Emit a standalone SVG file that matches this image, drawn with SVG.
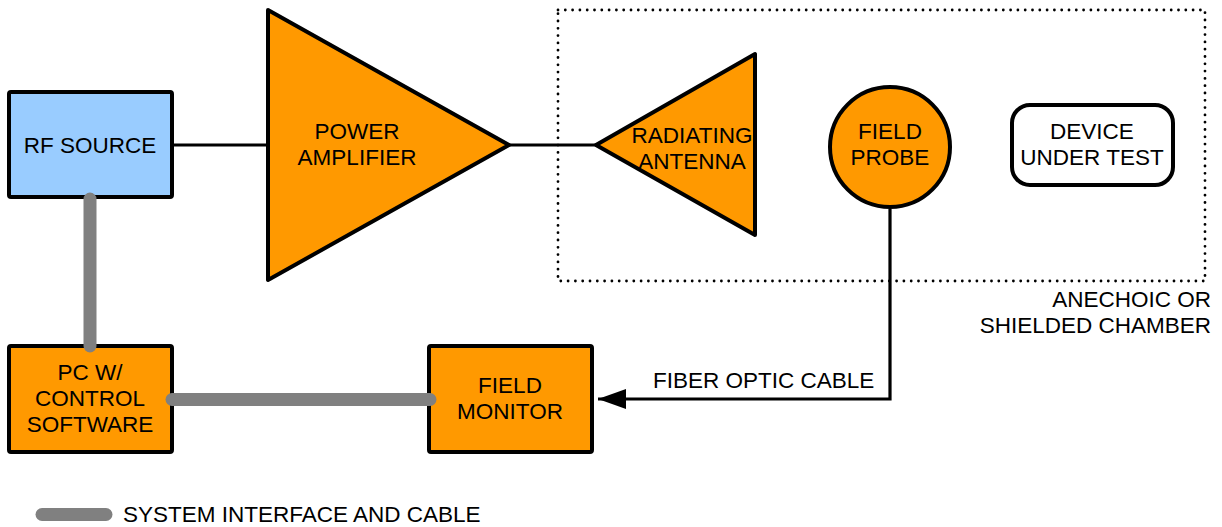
<svg xmlns="http://www.w3.org/2000/svg" width="1222" height="527" viewBox="0 0 1222 527">
  <style>
    .lbl { font-family: "Liberation Sans", Arial, sans-serif; font-size: 22.5px; fill: #000; }
    .mid { text-anchor: middle; }
    .box { stroke: #000; stroke-width: 4; stroke-linejoin: round; }
    .orange { fill: #FF9900; }
    .blue { fill: #99CCFF; }
    .wire { fill: none; stroke: #000; stroke-width: 3.2; }
    .cable { fill: none; stroke: #808080; stroke-width: 13; stroke-linecap: round; }
  </style>
  <defs>
    <marker id="arrow" markerUnits="userSpaceOnUse" markerWidth="30" markerHeight="22" refX="28" refY="11" orient="auto">
      <path d="M0,1 L28,11 L0,21 Z" fill="#000"/>
    </marker>
  </defs>

  <rect width="1222" height="527" fill="#fff"/>

  <!-- shielded chamber outline -->
  <g id="chamber">
    <rect x="558" y="10" width="647" height="271" fill="none" stroke="#000" stroke-width="2.8" stroke-linecap="round" stroke-dasharray="0 7.3"/>
    <text class="lbl" x="1211" y="307" text-anchor="end">ANECHOIC OR</text>
    <text class="lbl" x="1211" y="333" text-anchor="end">SHIELDED CHAMBER</text>
  </g>

  <g id="rf-source">
    <rect class="box blue" x="9" y="92" width="163" height="105" rx="2"/>
    <text class="lbl mid" x="90" y="153">RF SOURCE</text>
  </g>

  <g id="power-amplifier">
    <polygon class="box orange" points="268,10 509,145 268,280"/>
    <text class="lbl mid" x="357" y="139">POWER</text>
    <text class="lbl mid" x="357" y="165">AMPLIFIER</text>
  </g>

  <g id="radiating-antenna">
    <polygon class="box orange" points="596,145 755,54 755,235"/>
    <text class="lbl mid" x="692" y="143">RADIATING</text>
    <text class="lbl mid" x="692" y="169">ANTENNA</text>
  </g>

  <g id="field-probe">
    <circle class="box orange" cx="890" cy="147" r="60"/>
    <text class="lbl mid" x="890" y="139">FIELD</text>
    <text class="lbl mid" x="890" y="165">PROBE</text>
  </g>

  <g id="device-under-test">
    <rect class="box" x="1012" y="105" width="161" height="80" rx="18" fill="#fff"/>
    <text class="lbl mid" x="1092" y="139">DEVICE</text>
    <text class="lbl mid" x="1092" y="165">UNDER TEST</text>
  </g>

  <g id="pc-control">
    <rect class="box orange" x="9" y="346" width="163" height="106" rx="2"/>
    <text class="lbl mid" x="90" y="380">PC W/</text>
    <text class="lbl mid" x="90" y="406">CONTROL</text>
    <text class="lbl mid" x="90" y="432">SOFTWARE</text>
  </g>

  <g id="field-monitor">
    <rect class="box orange" x="429" y="346" width="163" height="106" rx="2"/>
    <text class="lbl mid" x="510" y="393">FIELD</text>
    <text class="lbl mid" x="510" y="419">MONITOR</text>
  </g>

  <!-- connectors, drawn over the node borders -->
  <g id="connectors">
    <line class="wire" x1="174" y1="145" x2="268" y2="145"/>
    <line class="wire" x1="509" y1="145" x2="596" y2="145"/>
    <path class="wire" d="M890,209 L890,399 L598,399" marker-end="url(#arrow)"/>
    <line class="cable" x1="90" y1="199" x2="90" y2="346"/>
    <line class="cable" x1="172" y1="399.5" x2="430" y2="399.5"/>
    <text class="lbl" x="653" y="388">FIBER OPTIC CABLE</text>
  </g>

  <g id="legend">
    <line class="cable" x1="42" y1="514.5" x2="106" y2="514.5"/>
    <text class="lbl" x="123" y="522">SYSTEM INTERFACE AND CABLE</text>
  </g>
</svg>
